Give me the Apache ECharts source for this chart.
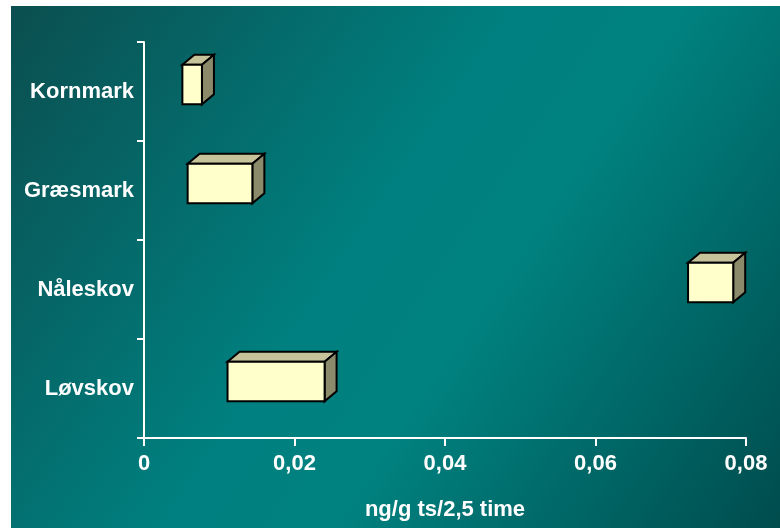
<!DOCTYPE html>
<html>
<head>
<meta charset="utf-8">
<script src="https://cdn.jsdelivr.net/npm/echarts@6/dist/echarts.min.js"></script>
<style>
  html, body { margin: 0; padding: 0; background: #ffffff; }
  #chart { position: absolute; left: 11px; top: 6px; width: 769px; height: 522px; }
</style>
</head>
<body>
<div id="chart"></div>
<script>
// Habitat categories, top to bottom
const categories = ['Kornmark', 'Græsmark', 'Nåleskov', 'Løvskov'];
// Range of each habitat (ng/g ts per 2,5 time): lower and upper bound
const rangeLow  = [0.0051, 0.0058, 0.0723, 0.0111];
const rangeHigh = [0.0077, 0.0144, 0.0783, 0.0240];
// Value axis tick labels (Danish decimal comma)
const xTickLabels = ['0', '0,02', '0,04', '0,06', '0,08'];
const xAxisName = 'ng/g ts/2,5 time';

const chart = echarts.init(document.getElementById('chart'));

const seriesData = categories.map((c, i) => [i, rangeLow[i], rangeHigh[i]]);

// Draws each range as a 3D-looking box (front, top and side faces)
function renderBox(params, api) {
  const cat = api.value(0);
  const pLo = api.coord([api.value(1), cat]);
  const pHi = api.coord([api.value(2), cat]);
  const band = api.size([0, 1])[1];
  const h = band * 0.40;
  const yT = pLo[1] - band * 0.27;
  const yB = yT + h;
  const x0 = pLo[0], x1 = pHi[0];
  const dx = 12, dy = 10;
  const stroke = { stroke: '#000000', lineWidth: 2, lineJoin: 'miter' };
  return {
    type: 'group',
    children: [
      {
        type: 'polygon',
        shape: { points: [[x0, yT], [x0 + dx, yT - dy], [x1 + dx, yT - dy], [x1, yT]] },
        style: Object.assign({ fill: '#C6C39B' }, stroke)
      },
      {
        type: 'polygon',
        shape: { points: [[x1, yT], [x1 + dx, yT - dy], [x1 + dx, yB - dy], [x1, yB]] },
        style: Object.assign({ fill: '#8B8A6B' }, stroke)
      },
      {
        type: 'rect',
        shape: { x: x0, y: yT, width: x1 - x0, height: h },
        style: Object.assign({ fill: '#FFFFCC' }, stroke)
      }
    ]
  };
}

const labelFont = {
  color: '#ffffff',
  fontFamily: '"Liberation Sans", Arial, sans-serif',
  fontWeight: 'bold',
  fontSize: 22
};

chart.setOption({
  backgroundColor: new echarts.graphic.LinearGradient(0, 0, 1, 1, [
    { offset: 0, color: '#0B4E4F' },
    { offset: 0.45, color: '#008080' },
    { offset: 0.6, color: '#008280' },
    { offset: 1, color: '#004C4D' }
  ]),
  animation: false,
  grid: { left: 133, right: 34, top: 36, bottom: 90, containLabel: false },
  xAxis: {
    type: 'value',
    min: 0,
    max: 0.08,
    interval: 0.02,
    name: xAxisName,
    nameLocation: 'middle',
    nameGap: 61,
    nameTextStyle: labelFont,
    axisLine: { show: true, lineStyle: { color: '#ffffff', width: 2 } },
    axisTick: { show: true, length: 8, lineStyle: { color: '#ffffff', width: 2 } },
    axisLabel: Object.assign({
      margin: 15,
      formatter: v => xTickLabels[Math.round(v / 0.02)]
    }, labelFont),
    splitLine: { show: false }
  },
  yAxis: {
    type: 'category',
    data: categories,
    inverse: true,
    axisLine: { show: true, lineStyle: { color: '#ffffff', width: 2 } },
    axisTick: { show: true, length: 7, lineStyle: { color: '#ffffff', width: 2 } },
    axisLabel: Object.assign({ margin: 10 }, labelFont),
    splitLine: { show: false }
  },
  series: [{
    type: 'custom',
    renderItem: renderBox,
    data: seriesData,
    encode: { x: [1, 2], y: 0 },
    clip: false
  }]
});
</script>
</body>
</html>
